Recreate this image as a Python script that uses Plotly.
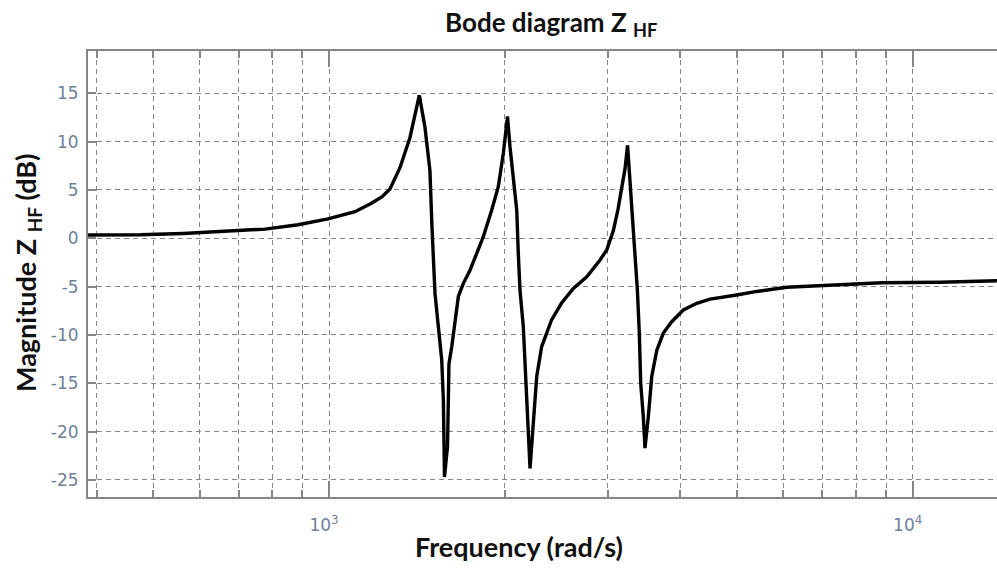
import plotly.graph_objects as go

# Frequency (rad/s) and magnitude (dB)
freq = [386.6, 474.6, 562.2, 666, 777, 885, 996, 1108, 1180, 1233, 1272, 1323, 1376, 1404, 1428,
        1460, 1489, 1501, 1519, 1539, 1560, 1570, 1577, 1596, 1605, 1623, 1644, 1666, 1699, 1744,
        1791, 1838, 1900, 1950, 1989, 2010, 2022, 2042, 2069, 2097, 2110, 2124, 2152, 2167, 2181,
        2197, 2210, 2239, 2269, 2314, 2360, 2406, 2503, 2622, 2764, 2913, 2991, 3070, 3127, 3177,
        3215, 3247, 3301, 3344, 3375, 3401, 3420, 3455, 3478, 3524, 3572, 3643, 3739, 3865, 4046,
        4266, 4496, 4993, 5405, 6083, 7264, 8848, 11140, 13950]
mag_db = [0.34, 0.36, 0.5, 0.72, 0.95, 1.4, 2.0, 2.75, 3.6, 4.3, 5.1, 7.3, 10.4, 12.8, 14.8,
          11.5, 7.0, 1.2, -5.7, -9.1, -12.6, -16.7, -24.7, -21.5, -13.0, -11.2, -8.8, -6.0, -4.66, -3.3,
          -1.56, 0.16, 2.92, 5.33, 8.78, 11.5, 12.6, 9.47, 6.37, 2.92, -1.56, -5.35, -9.1, -12.9, -17.1,
          -21.5, -23.8, -19.1, -14.3, -11.2, -9.8, -8.45, -6.7, -5.2, -3.98, -2.25, -1.2, 0.8, 3.0, 5.5,
          7.2, 9.6, 2.92, -1.2, -5.35, -9.8, -15.0, -18.45, -21.7, -18.45, -14.3, -11.6, -9.8, -8.63, -7.42,
          -6.73, -6.3, -5.87, -5.5, -5.07, -4.83, -4.6, -4.55, -4.4]

x_major = [1000, 10000]
x_major_text = ["10<sup>3</sup>", "10<sup>4</sup>"]
x_minor = [400, 500, 600, 700, 800, 900, 2000, 3000, 4000, 5000, 6000, 7000, 8000, 9000]
y_ticks = [-25, -20, -15, -10, -5, 0, 5, 10, 15]
y_tick_text = ["-25", "-20", "-15", "-10", "-5", "0", "5", "10", "15"]

W, H = 997, 572
L, R, T, B = 88, 0, 51, 75
pw, ph = W - L - R, H - T - B

grid_col = "#868686"
tick_font = dict(family="DejaVu Sans, Verdana, sans-serif", size=17, color="#6f7f99")
title_font = dict(family="Lato, sans-serif", size=27, color="#111111", weight="bold")

fig = go.Figure()
fig.add_trace(go.Scatter(x=freq, y=mag_db, mode="lines",
                         line=dict(color="black", width=3.4), showlegend=False))

fig.update_layout(
    width=W, height=H,
    margin=dict(l=L, r=R, t=T, b=B, autoexpand=False),
    plot_bgcolor="white", paper_bgcolor="white",
)
fig.update_xaxes(
    type="log", range=[2.5871, 4.1444],
    tickvals=x_major, ticktext=x_major_text,
    tickfont=tick_font, ticks="inside", ticklen=16, tickcolor=grid_col, tickwidth=2,
    ticklabelstandoff=12, ticklabelshift=-5,
    showgrid=True, gridcolor=grid_col, griddash="5px,4px", gridwidth=1.2,
    minor=dict(tickvals=x_minor, ticks="inside", ticklen=7, tickcolor=grid_col, tickwidth=2,
               showgrid=True, gridcolor=grid_col, griddash="5px,4px", gridwidth=1.2),
    showline=True, linecolor=grid_col, linewidth=2, mirror="ticks",
    zeroline=False,
)
fig.update_yaxes(
    range=[-26.76, 19.37],
    tickvals=y_ticks, ticktext=y_tick_text,
    tickfont=tick_font, ticks="inside", ticklen=8, tickcolor=grid_col, tickwidth=2,
    ticklabelstandoff=4,
    showgrid=True, gridcolor=grid_col, griddash="5px,4px", gridwidth=1.2,
    showline=True, linecolor=grid_col, linewidth=2, mirror=False,
    zeroline=False,
)

def px_x(x):
    return (x - L) / pw

def px_y(y):
    return (H - B - y) / ph

fig.add_annotation(text="Bode diagram Z <sub>HF</sub>", xref="paper", yref="paper",
                   x=px_x(551), y=px_y(24), xanchor="center", yanchor="middle", showarrow=False,
                   font=dict(family="Lato, sans-serif", size=26, color="#111111", weight="bold"))
fig.add_annotation(text="Frequency (rad/s)", xref="paper", yref="paper",
                   x=px_x(519), y=px_y(546), xanchor="center", yanchor="middle",
                   showarrow=False, font=title_font)
fig.add_annotation(text="Magnitude Z <sub>HF</sub> (dB)", xref="paper", yref="paper",
                   x=px_x(27), y=px_y(273), xanchor="center", yanchor="middle",
                   showarrow=False, textangle=-90, font=title_font)

fig.write_html("out.html", config={"displayModeBar": False},
               post_script="document.body.style.margin='0px';document.body.style.overflow='hidden';")
